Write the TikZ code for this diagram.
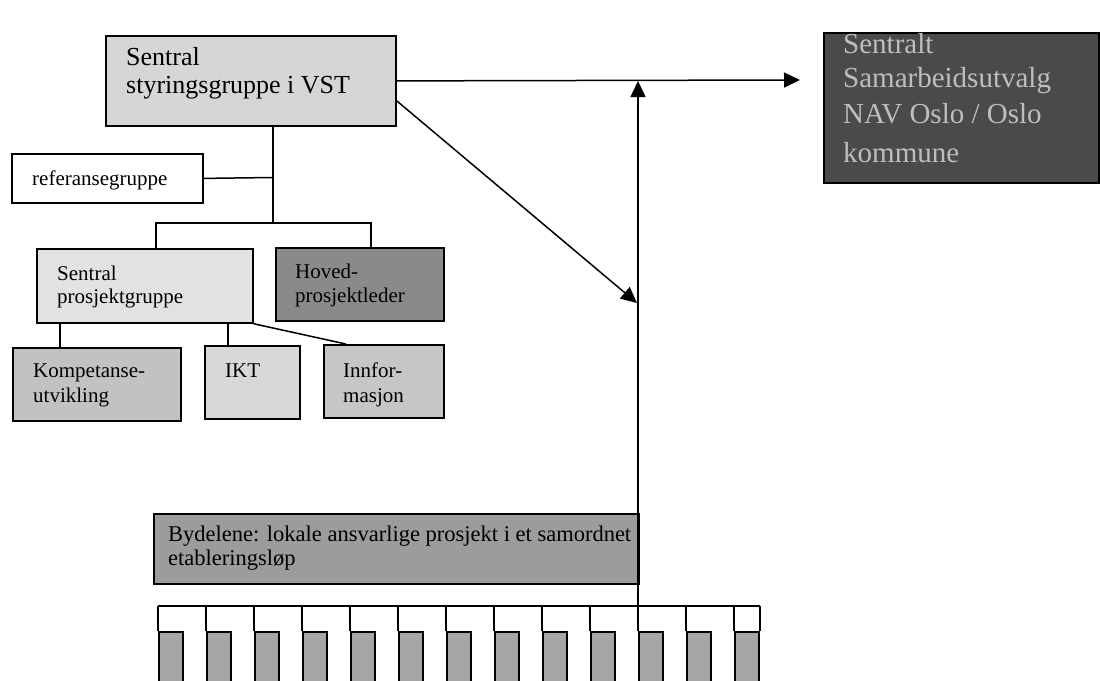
\documentclass[tikz,border=0pt]{standalone}
\usepackage{fontspec}
\setmainfont{Liberation Serif}
\usetikzlibrary{arrows.meta}
\definecolor{gStyr}{HTML}{D6D6D6}
\definecolor{gPg}{HTML}{E2E2E2}
\definecolor{gHpl}{HTML}{8A8A8A}
\definecolor{gKomp}{HTML}{C2C2C2}
\definecolor{gIkt}{HTML}{D8D8D8}
\definecolor{gInfo}{HTML}{C6C6C6}
\definecolor{gByd}{HTML}{9C9C9C}
\definecolor{gBar}{HTML}{A6A6A6}
\definecolor{gDark}{HTML}{4A4A4A}
\definecolor{gDarkTxt}{HTML}{BEBEBE}
\begin{document}
\begin{tikzpicture}[x=1pt,y=-1pt,
  box/.style={draw=black, line width=1.8pt, inner sep=0pt, anchor=north west},
  conn/.style={line width=1.5pt},
  arr/.style={line width=1.5pt, -{Triangle[length=16pt,width=15pt]}},
  lab/.style={anchor=base west, inner sep=0pt, font=\fontsize{21}{23}\selectfont},
  big/.style={lab, font=\fontsize{26}{28}\selectfont},
  huge/.style={lab, font=\fontsize{29}{32}\selectfont, text=gDarkTxt},
  barbox/.style={box, fill=gBar, line width=2pt, minimum width=24pt, minimum height=70pt},
]
\useasboundingbox (0,0) rectangle (1100,680);
\clip (0,0) rectangle (1100,680);

% boxes
\node[box, fill=gStyr, minimum width=290pt, minimum height=90pt] (styr) at (105,35) {};
\node[box, fill=gDark, minimum width=275pt, minimum height=150pt] (dark) at (823,32) {};
\node[box, fill=white, minimum width=191pt, minimum height=49pt] (ref) at (11,153) {};
\node[box, fill=gPg, minimum width=216pt, minimum height=74pt] (pg) at (36,248) {};
\node[box, fill=gHpl, minimum width=168pt, minimum height=73pt] (hpl) at (275,247) {};
\node[box, fill=gKomp, minimum width=168pt, minimum height=73pt] (komp) at (12,347) {};
\node[box, fill=gIkt, minimum width=95pt, minimum height=73pt] (ikt) at (204,345) {};
\node[box, fill=gInfo, minimum width=120pt, minimum height=73pt] (info) at (323,344) {};
\node[box, fill=gByd, minimum width=485pt, minimum height=70pt] (byd) at (153,513) {};

% texts
\node[big] (styrA) at (126,65) {Sentral};
\node[big] (styrB) at (126,93) {styringsgruppe i VST};
\node[huge] (darkA) at (843,53) {Sentralt};
\node[huge] (darkB) at (843,87) {Samarbeidsutvalg};
\node[huge] (darkC) at (843,123) {NAV Oslo / Oslo};
\node[huge] (darkD) at (843,162) {kommune};
\node[lab] (refA) at (32,185) {referansegruppe};
\node[lab] (pgA) at (57,280) {Sentral};
\node[lab] (pgB) at (57,303) {prosjektgruppe};
\node[lab] (hplA) at (295,278) {Hoved-};
\node[lab] (hplB) at (295,302) {prosjektleder};
\node[lab] (kompA) at (33,377) {Kompetanse-};
\node[lab] (kompB) at (33,402) {utvikling};
\node[lab] (iktA) at (225,377) {IKT};
\node[lab] (infoA) at (343,377) {Innfor-};
\node[lab] (infoB) at (343,402) {masjon};
\node[lab, font=\fontsize{22.5}{24}\selectfont] (bydA) at (168,541) {Bydelene: lokale ansvarlige prosjekt i et samordnet};
\node[lab, font=\fontsize{22.5}{24}\selectfont] (bydB) at (168,565) {etableringsløp};

% tree connectors
\coordinate (j) at (273,223);
\coordinate (jr) at (273,177.5);
\coordinate (x60) at (60,0);
\coordinate (x228) at (228,0);
\draw[conn] (styr.south -| j) -- (j);
\draw[conn] (ref.east) -- (jr);
\draw[conn] ([xshift=11pt]pg.north) -- ++(0,-25) -| ([xshift=11pt]hpl.north);
\draw[conn] (pg.south -| x60) -- (komp.north -| x60);
\draw[conn] (pg.south -| x228) -- (ikt.north -| x228);
\draw[conn] (pg.south east) -- ([xshift=-38pt]info.north);

% comb of bydeler
\foreach \i in {0,...,12} {
  \node[barbox] (b\i) at (158+48*\i, 631) {};
}
\coordinate (combY) at (0,606);
\draw[conn] (b0.north west |- combY) -- (b12.north east |- combY);
\foreach \i in {0,...,12} {
  \draw[conn] (b\i.north west |- combY) -- (b\i.north west);
}
\draw[conn] (b12.north east |- combY) -- (b12.north east);

% arrows
\coordinate (hTip) at (800,80);
\coordinate (vTip) at (638,81);
\coordinate (dTip) at (637,303);
\draw[arr] (styr.east) -- (hTip);
\draw[arr] (b10.north west |- combY) -- (vTip);
\draw[arr] ([yshift=-20pt]styr.east) -- (dTip);
\end{tikzpicture}
\end{document}
